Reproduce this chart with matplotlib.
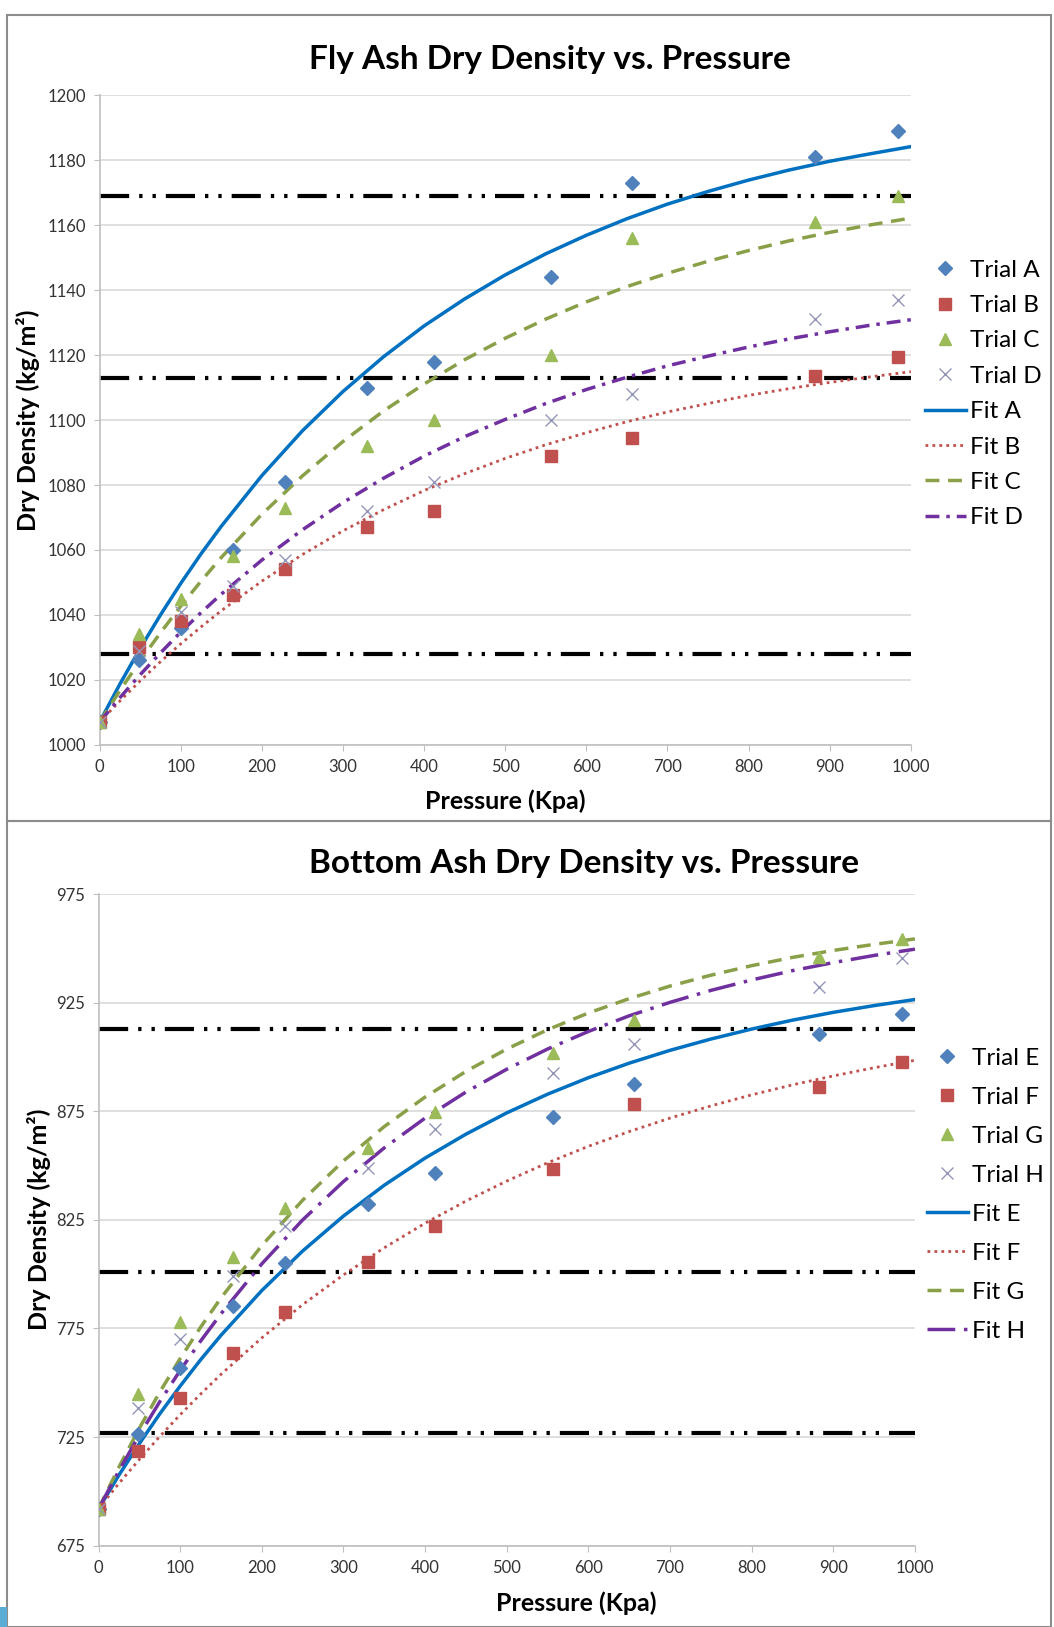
import matplotlib
matplotlib.use("Agg")
import matplotlib.pyplot as plt
from matplotlib.patches import Rectangle

plt.rcParams['font.family'] = ['Lato', 'DejaVu Sans']

# measured pressures (Kpa), same for every trial
pressure = [0, 48, 100, 165, 228, 330, 412, 557, 656, 882, 984]

# fly ash trials
trial_a = [1007, 1026, 1036, 1060, 1081, 1110, 1118, 1144, 1173, 1181, 1189]
trial_b = [1007, 1030, 1038, 1046, 1054, 1067, 1072, 1089, 1094.5, 1113.5, 1119.5]
trial_c = [1007, 1034, 1045, 1058, 1073, 1092, 1100, 1120, 1156, 1161, 1169]
trial_d = [1007, 1029, 1041, 1049, 1057, 1072, 1081, 1100, 1108, 1131, 1137]

# bottom ash trials
trial_e = [692, 726.6, 756.7, 785.3, 805.2, 832.5, 846.4, 872.3, 887.4, 910.4, 919.8]
trial_f = [692, 718.6, 743.2, 763.8, 782.5, 805.7, 822, 848.6, 878.2, 886, 897.8]
trial_g = [692, 745, 777.8, 808, 830.3, 858.3, 874.6, 901.9, 917, 945.9, 954.4]
trial_h = [692, 738.2, 770.2, 799.3, 822.3, 849, 867, 892.6, 905.9, 932.4, 945.4]

# fit curves
fit_x = [0, 25, 50, 75, 100, 125, 150, 200, 250, 300, 350, 400, 450, 500,
         550, 600, 650, 700, 750, 800, 850, 900, 950, 1000]
fit_a = [1007, 1018.7, 1029.7, 1040, 1049.7, 1058.8, 1067.3, 1082.9, 1096.7, 1108.8, 1119.5, 1129, 1137.3, 1144.7,
         1151.2, 1156.9, 1162, 1166.5, 1170.4, 1173.9, 1177, 1179.7, 1182, 1184.2]
fit_b = [1007, 1013.5, 1019.7, 1025.6, 1031.1, 1036.3, 1041.3, 1050.4, 1058.6, 1065.9, 1072.4, 1078.3, 1083.5, 1088.2,
         1092.4, 1096.1, 1099.5, 1102.5, 1105.1, 1107.6, 1109.7, 1111.6, 1113.3, 1114.9]
fit_c = [1007, 1016.7, 1025.9, 1034.5, 1042.7, 1050.4, 1057.7, 1071, 1082.8, 1093.4, 1102.8, 1111.1, 1118.6, 1125.2,
         1131.1, 1136.4, 1141.1, 1145.2, 1148.9, 1152.2, 1155.2, 1157.8, 1160.1, 1162.2]
fit_d = [1007, 1014.5, 1021.6, 1028.3, 1034.7, 1040.7, 1046.4, 1056.9, 1066.2, 1074.6, 1082.1, 1088.9, 1094.9, 1100.2,
         1105.1, 1109.4, 1113.2, 1116.7, 1119.7, 1122.5, 1125, 1127.2, 1129.2, 1130.9]

fit_e = [692, 707.5, 722, 735.7, 748.5, 760.6, 771.9, 792.5, 810.7, 826.8, 841, 853.5, 864.5, 874.3,
         882.9, 890.5, 897.2, 903.1, 908.3, 912.9, 917, 920.6, 923.7, 926.5]
fit_f = [692, 703.7, 714.7, 725.3, 735.3, 744.8, 753.9, 770.7, 786, 799.7, 812.2, 823.5, 833.7, 842.9,
         851.3, 858.9, 865.7, 871.9, 877.5, 882.6, 887.2, 891.3, 895.1, 898.5]
fit_g = [692, 711.2, 729.1, 745.7, 761.2, 775.6, 789.1, 813.2, 834.1, 852.2, 868, 881.6, 893.4, 903.7,
         912.6, 920.3, 926.9, 932.7, 937.7, 942.1, 945.9, 949.1, 951.9, 954.4]
fit_h = [692, 709.5, 725.9, 741.3, 755.7, 769.2, 781.8, 804.8, 825, 842.7, 858.2, 871.9, 883.9, 894.4,
         903.7, 911.8, 919, 925.2, 930.7, 935.5, 939.8, 943.5, 946.8, 949.7]

# reference levels (dash-dot-dot lines)
fly_levels = [1169, 1113, 1028]
bottom_levels = [913, 801, 727]

fly_yticks = [1000, 1020, 1040, 1060, 1080, 1100, 1120, 1140, 1160, 1180, 1200]
bottom_yticks = [675, 725, 775, 825, 875, 925, 975]
xticks = [0, 100, 200, 300, 400, 500, 600, 700, 800, 900, 1000]

W, H = 1054, 1627
fig = plt.figure(figsize=(W / 100, H / 100), dpi=100)

# chart area borders
fig.patches.append(Rectangle((7 / W, 1 - 821 / H), 1044 / W, 806 / H, transform=fig.transFigure,
                             fill=False, edgecolor='#8c8c8c', linewidth=1.5))
fig.patches.append(Rectangle((7 / W, 0), 1044 / W, 806 / H, transform=fig.transFigure,
                             fill=False, edgecolor='#8c8c8c', linewidth=1.5))
fig.patches.append(Rectangle((0, 0), 7 / W, 20 / H, transform=fig.transFigure,
                             facecolor='#5badd6', edgecolor='none'))

refdash = (0, (7, 2.4, 0.8, 2.4, 0.8, 2.4))
mk = dict(linestyle='none', zorder=4)


def draw(ax, trials, fits, levels, names, lstyles, yticks):
    for lv in levels:
        ax.hlines(lv, 0, 1000, colors='black', linewidth=3, linestyles=[refdash], zorder=2)
    markers = [('D', '#4f81bd', 7.5, 1), ('s', '#c0504d', 8.5, 1), ('^', '#9bbb59', 9, 1), ('x', '#9496b8', 9, 1)]
    hs = []
    for ys, (m, c, s, lw), n in zip(trials, markers, names[:4]):
        h, = ax.plot(pressure, ys, marker=m, color=c, markersize=s, markeredgewidth=lw, label=n, **mk)
        hs.append(h)
    fcols = ['#0070c0', '#c0504d', '#8aa048', '#7030a0']
    fws = [2.5, 2, 2.5, 2.5]
    for ys, c, ls, lw, n in zip(fits, fcols, lstyles, fws, names[4:]):
        h, = ax.plot(fit_x, ys, color=c, linestyle=ls, linewidth=lw, label=n, zorder=3)
        hs.append(h)
    ax.set_xlim(0, 1000)
    ax.set_ylim(yticks[0], yticks[-1])
    ax.set_xticks(xticks)
    ax.set_yticks(yticks)
    ax.grid(axis='y', color='#d9d9d9', linewidth=1.2)
    ax.set_axisbelow(True)
    for s in ['top', 'right']:
        ax.spines[s].set_visible(False)
    for s in ['left', 'bottom']:
        ax.spines[s].set_color('#bfbfbf')
        ax.spines[s].set_linewidth(1.2)
    ax.tick_params(axis='both', colors='#bfbfbf', labelcolor='#333333', labelsize=12, length=4, pad=6)
    return hs


ax1 = fig.add_axes([0.0945, 0.5422, 0.7696, 0.3992])
h1 = draw(ax1, [trial_a, trial_b, trial_c, trial_d], [fit_a, fit_b, fit_c, fit_d], fly_levels,
          ['Trial A', 'Trial B', 'Trial C', 'Trial D', 'Fit A', 'Fit B', 'Fit C', 'Fit D'],
          ['-', (0, (1, 1.5)), (0, (4, 2.5)), (0, (4, 2, 1, 2))], fly_yticks)

ax2 = fig.add_axes([0.0935, 0.05, 0.7746, 0.4004])
h2 = draw(ax2, [trial_e, trial_f, trial_g, trial_h], [fit_e, fit_f, fit_g, fit_h], bottom_levels,
          ['Trial E', 'Trial F', 'Trial G', 'Trial H', 'Fit E', 'Fit F', 'Fit G', 'Fit H'],
          ['-', (0, (1, 1.5)), (0, (4, 2.5)), (0, (8, 2.5, 1, 2.5))], bottom_yticks)

fig.legend(handles=h1, loc='upper left', bbox_to_anchor=(0.868, 1 - 250 / H), frameon=False,
           fontsize=17.5, labelspacing=0.59, handlelength=1.7, handletextpad=0.15, borderaxespad=0)
fig.legend(handles=h2, loc='upper left', bbox_to_anchor=(0.870, 1 - 1038 / H), frameon=False,
           fontsize=17.5, labelspacing=0.74, handlelength=1.7, handletextpad=0.15, borderaxespad=0)

fig.text(550 / W, 1 - 59 / H, 'Fly Ash Dry Density vs. Pressure', ha='center', va='center',
         fontsize=24, fontweight='bold')
fig.text(584 / W, 1 - 863 / H, 'Bottom Ash Dry Density vs. Pressure', ha='center', va='center',
         fontsize=24, fontweight='bold')
fig.text(505 / W, 1 - 801 / H, 'Pressure (Kpa)', ha='center', va='center', fontsize=18, fontweight='bold')
fig.text(576 / W, 1 - 1603 / H, 'Pressure (Kpa)', ha='center', va='center', fontsize=18, fontweight='bold')
fig.text(28 / W, 1 - 420 / H, 'Dry Density (kg/m²)', ha='center', va='center', rotation=90,
         fontsize=18, fontweight='bold')
fig.text(39 / W, 1 - 1219 / H, 'Dry Density (kg/m²)', ha='center', va='center', rotation=90,
         fontsize=18, fontweight='bold')

fig.savefig('out.png', dpi=100)
